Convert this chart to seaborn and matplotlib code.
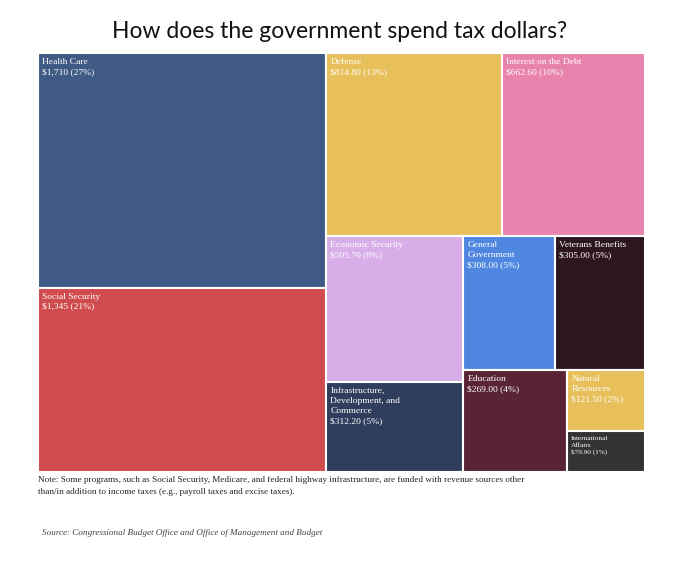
import matplotlib.pyplot as plt
from matplotlib.patches import Rectangle
import seaborn as sns

sns.set_theme(style="white")

# data
categories = ["Health Care", "Social Security", "Defense", "Interest on the Debt",
              "Economic Security", "Infrastructure,\nDevelopment, and\nCommerce",
              "General\nGovernment", "Veterans Benefits", "Education",
              "Natural\nResources", "International\nAffairs"]
values = [1710, 1345, 814.80, 662.60, 505.70, 312.20, 308.00, 305.00, 269.00, 121.50, 79.90]
value_labels = ["$1,710 (27%)", "$1,345 (21%)", "$814.80 (13%)", "$662.60 (10%)",
                "$505.70 (8%)", "$312.20 (5%)", "$308.00 (5%)", "$305.00 (5%)",
                "$269.00 (4%)", "$121.50 (2%)", "$79.90 (1%)"]
colors = ["#3f5a85", "#cf4b4d", "#e8c05b", "#e883ad", "#d8aee9", "#2f3e5d",
          "#4f87e0", "#2d1620", "#5a2437", "#e8c05b", "#333333"]

W, H = 607.0, 419.0


def worst(row, side):
    s = sum(row)
    return max(max(side * side * r / (s * s), s * s / (side * side * r)) for r in row)


def layout_row(row, x, y, w, h):
    s = sum(row)
    rects = []
    if w >= h:
        cw = s / h
        yy = y
        for r in row:
            rh = r / cw
            rects.append((x, yy, cw, rh))
            yy += rh
        return rects, (x + cw, y, w - cw, h)
    ch = s / w
    xx = x
    for r in row:
        rw = r / ch
        rects.append((xx, y, rw, ch))
        xx += rw
    return rects, (x, y + ch, w, h - ch)


def squarify(areas, x, y, w, h):
    rects = []
    areas = list(areas)
    while areas:
        side = min(w, h)
        row = [areas.pop(0)]
        while areas and worst(row + [areas[0]], side) <= worst(row, side):
            row.append(areas.pop(0))
        r, (x, y, w, h) = layout_row(row, x, y, w, h)
        rects += r
    return rects


total = sum(values)
areas = [v / total * W * H for v in values]
rects = squarify(areas, 0, 0, W, H)

fig = plt.figure(figsize=(6.8, 5.64), dpi=100)
ax = fig.add_axes([38 / 680, 1 - 472 / 564, W / 680, H / 564])
ax.set_xlim(0, W)
ax.set_ylim(H, 0)
ax.axis("off")

for (x, y, w, h), name, lab, c in zip(rects, categories, value_labels, colors):
    ax.add_patch(Rectangle((x, y), w, h, facecolor=c, edgecolor="white", linewidth=1.5))
    small = name.startswith("International")
    fs = 5.2 if small else 6.8
    ax.text(x + 4, y + 5, name + "\n" + lab, color="white", fontsize=fs,
            family="Liberation Serif", va="top", ha="left", linespacing=1.35)

fig.text(0.5, 0.945, "How does the government spend tax dollars?", ha="center",
         va="center", fontsize=16.5, family="Lato", color="#111111")
fig.text(38 / 680, 1 - 486 / 564,
         "Note: Some programs, such as Social Security, Medicare, and federal highway infrastructure, are funded with revenue sources other\n"
         "than/in addition to income taxes (e.g., payroll taxes and excise taxes).",
         ha="left", va="center", fontsize=6.6, family="Liberation Serif", color="#222222",
         linespacing=1.6)
fig.text(42 / 680, 1 - 533 / 564, "Source: Congressional Budget Office and Office of Management and Budget",
         ha="left", va="center", fontsize=6.6, family="Liberation Serif", style="italic", color="#444444")

fig.savefig("out.png", dpi=100)
